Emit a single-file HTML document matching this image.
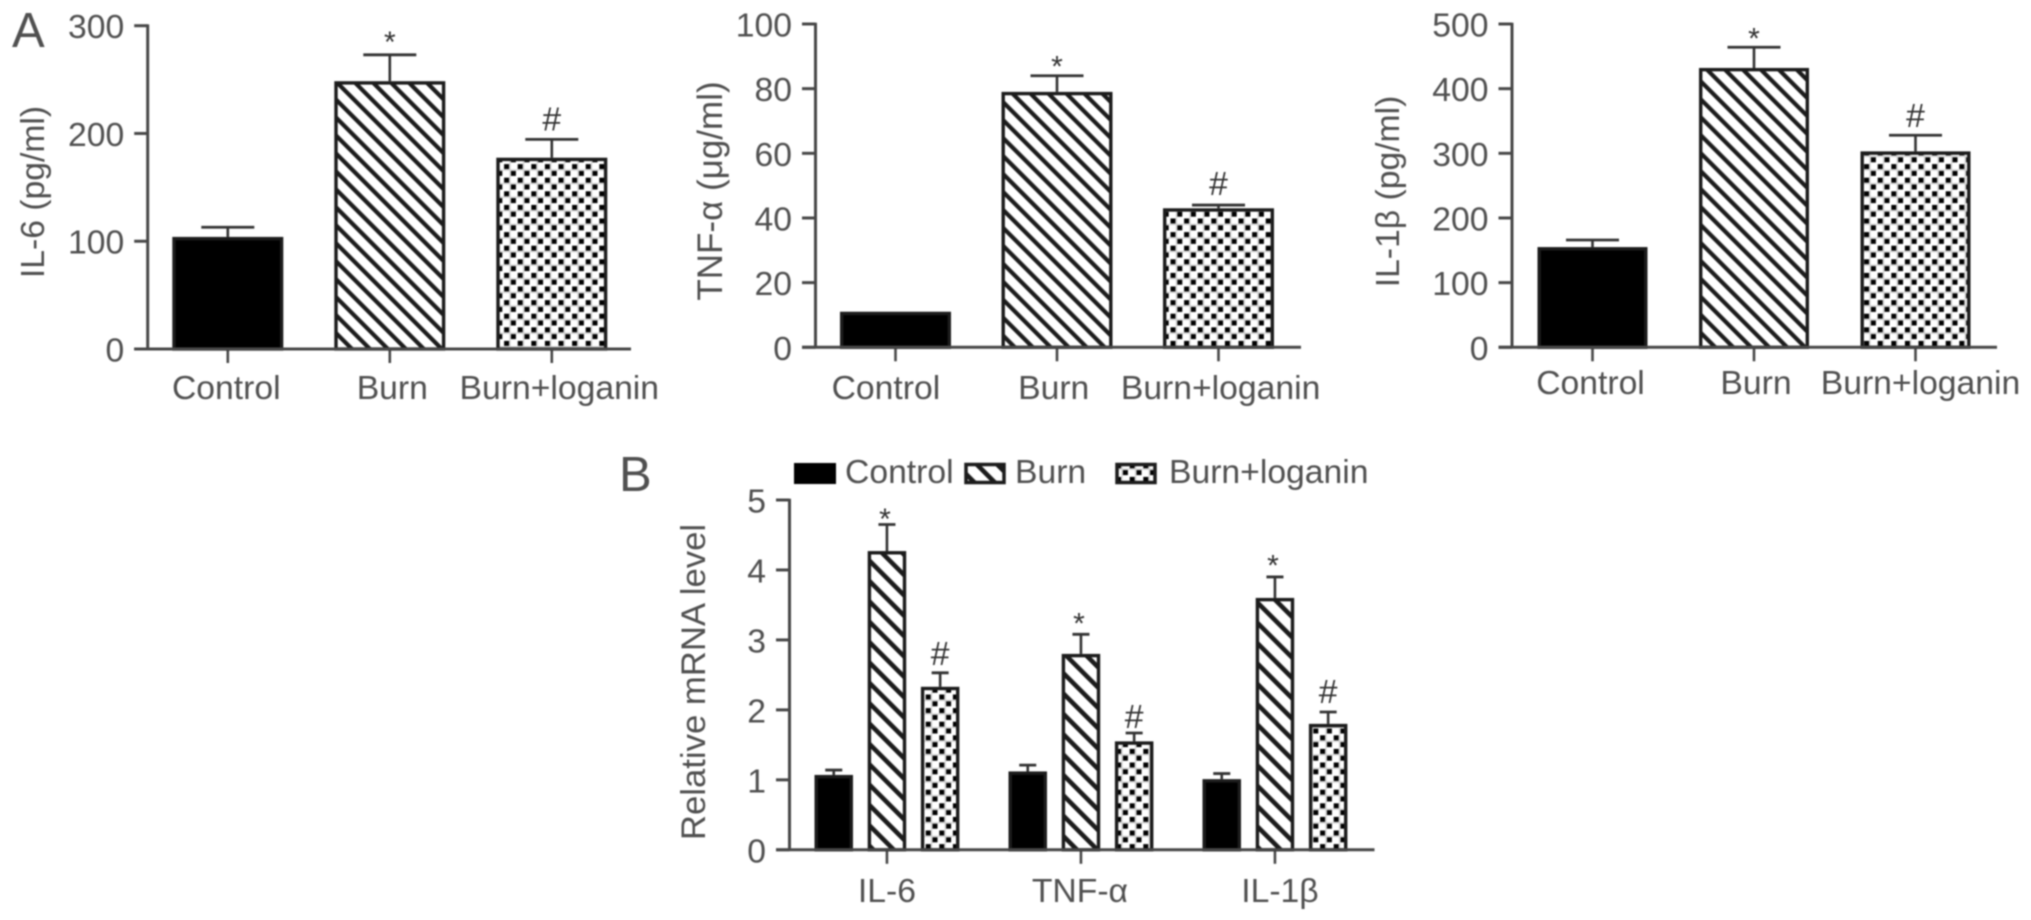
<!DOCTYPE html>
<html lang="en">
<head>
<meta charset="utf-8">
<title>Cytokine levels after burn and loganin treatment</title>
<style>
  html, body { margin: 0; padding: 0; background: #fff; }
  body { width: 2031px; height: 920px; overflow: hidden; }
  #figure { display: block; filter: blur(0.85px); }
  text { font-family: "Liberation Sans", "DejaVu Sans", sans-serif; fill: #505050; font-size: 33.7px; }
</style>
</head>
<body>
<svg id="figure" xmlns="http://www.w3.org/2000/svg" width="2031" height="920" viewBox="0 0 2031 920">
  <defs>
    <pattern id="hatch-a" patternUnits="userSpaceOnUse" width="12.7" height="12.7" patternTransform="rotate(-45)">
      <rect width="12.7" height="12.7" fill="#fff"></rect>
      <rect width="4.2" height="12.7" fill="#1c1c1c"></rect>
    </pattern>
    <pattern id="hatch-b" patternUnits="userSpaceOnUse" width="14.4" height="14.4" patternTransform="rotate(-45)">
      <rect width="14.4" height="14.4" fill="#fff"></rect>
      <rect width="4.6" height="14.4" fill="#1c1c1c"></rect>
    </pattern>
    <pattern id="checker" patternUnits="userSpaceOnUse" width="13.6" height="13.6">
      <rect width="13.6" height="13.6" fill="#fff"></rect>
      <rect x="0.9" y="0.9" width="5" height="5" fill="#000"></rect>
      <rect x="7.7" y="7.7" width="5" height="5" fill="#000"></rect>
      <rect x="6.2" y="0" width="1.2" height="13.6" fill="#ccc"></rect>
      <rect x="0" y="6.2" width="13.6" height="1.2" fill="#ccc"></rect>
    </pattern>
  </defs>

  <text x="12" y="47" style="font-size:49px">A</text>
  <text x="619" y="491" style="font-size:49px">B</text>

  <text text-anchor="middle" transform="translate(44,192) rotate(-90)">IL-6 (pg/ml)</text>
  <text text-anchor="middle" transform="translate(722,191) rotate(-90)" style="font-size:35px">TNF-α (μg/ml)</text>
  <text text-anchor="middle" transform="translate(1399,191.5) rotate(-90)">IL-1β (pg/ml)</text>
  <text text-anchor="middle" transform="translate(705,682) rotate(-90)" style="font-size:34.7px">Relative mRNA level</text>

  <g>
    <rect x="794" y="463" width="42" height="21" fill="#000"></rect>
    <text x="845" y="483">Control</text>
    <rect x="966" y="464.5" width="38" height="18" fill="url(#hatch-b)" stroke="#1c1c1c" stroke-width="3.5"></rect>
    <text x="1015" y="483">Burn</text>
    <rect x="1117" y="464.5" width="38" height="18" fill="url(#checker)" stroke="#1c1c1c" stroke-width="3.5"></rect>
    <text x="1169" y="483">Burn+loganin</text>
  </g>

  <g id="plots"></g>
</svg>

<script>
// ---- Panel A data ----
const groupCategories = ['Control', 'Burn', 'Burn+loganin'];

const il6Values = [104, 248.5, 177.5];
const il6ErrorTops = [113, 273, 194.5];
const il6Ticks = [0, 100, 200, 300];
const il6MarkerSymbols = ['', '*', '#'];
const il6MarkerLevels = [0, 291, 214];

const tnfValues = [11, 79, 43];
const tnfErrorTops = [11, 84, 44];
const tnfTicks = [0, 20, 40, 60, 80, 100];
const tnfMarkerSymbols = ['', '*', '#'];
const tnfMarkerLevels = [0, 88.9, 50.8];

const il1Values = [155, 432, 303];
const il1ErrorTops = [166, 464, 328];
const il1Ticks = [0, 100, 200, 300, 400, 500];
const il1MarkerSymbols = ['', '*', '#'];
const il1MarkerLevels = [0, 487.5, 359];

// ---- Panel B data ----
const mrnaCategories = ['IL-6', 'TNF-α', 'IL-1β'];
const mrnaSeriesNames = ['Control', 'Burn', 'Burn+loganin'];
const mrnaControl = [1.07, 1.12, 1.01];
const mrnaBurn = [4.27, 2.8, 3.6];
const mrnaLoganin = [2.33, 1.55, 1.8];
const mrnaControlErrorTops = [1.14, 1.21, 1.09];
const mrnaBurnErrorTops = [4.65, 3.08, 3.9];
const mrnaLoganinErrorTops = [2.53, 1.67, 1.97];
const mrnaBurnMarkerLevels = [4.82, 3.33, 4.16];
const mrnaLoganinMarkerLevels = [2.81, 1.91, 2.27];
const mrnaTicks = [0, 1, 2, 3, 4, 5];

// ---- Drawing ----
const SVG_NS = 'http://www.w3.org/2000/svg';
const plots = document.getElementById('plots');
const AXIS = '#484848';
const INK = '#1c1c1c';
const seriesFills = ['#000', 'url(#hatch-a)', 'url(#checker)'];
const seriesFillsB = ['#000', 'url(#hatch-b)', 'url(#checker)'];

function make(tag, attrs, parent) {
  const el = document.createElementNS(SVG_NS, tag);
  for (const k in attrs) el.setAttribute(k, attrs[k]);
  parent.appendChild(el);
  return el;
}

function drawAxes(parent, frame, ticks, yMax, yScale) {
  const yAxis = make('line', { x1: frame.axisX, x2: frame.axisX, y1: yScale(yMax) - 1.3, y2: frame.bottom, stroke: AXIS, 'stroke-width': 3 }, parent);
  
  
  const xAxis = make('line', { x1: frame.axisX - 13.5, x2: frame.xEnd, y1: frame.bottom, y2: frame.bottom, stroke: AXIS, 'stroke-width': 3 }, parent);
  
  
  ticks.forEach(function (t) {
    const y = yScale(t);
    const tick = make('line', { x1: frame.axisX - 13.5, x2: frame.axisX, y1: y, y2: y, stroke: AXIS, 'stroke-width': 3 }, parent);
    
    
    const label = make('text', { x: frame.axisX - 23.5, y: y + 12.5, 'text-anchor': 'end' }, parent);
    
    
    label.textContent = String(t);
  });
}

function drawBar(parent, x, w, value, errTop, fill, capW, yScale, bottom) {
  const top = yScale(value);
  const tip = yScale(errTop);
  if (errTop > value) {
    const stem = make('line', { x1: x + w / 2, x2: x + w / 2, y1: top, y2: tip, stroke: '#333', 'stroke-width': 2.6 }, parent);
    
    
    const cap = make('line', { x1: x + w / 2 - capW / 2, x2: x + w / 2 + capW / 2, y1: tip, y2: tip, stroke: '#333', 'stroke-width': 2.8 }, parent);
    
    
  }
  const bar = make('rect', { x: x + 1.7, y: top + 1.7, width: w - 3.4, height: Math.max(0, bottom - top - 1.7), fill: fill, stroke: INK, 'stroke-width': 3.4 }, parent);
  
  
}

function drawMarker(parent, symbol, cx, level, yScale) {
  if (!symbol) return;
  const isStar = symbol === '*';
  const size = isStar ? 30 : 33.7;
  const drop = isStar ? 16.5 : 12;
  const m = make('text', { x: cx, y: yScale(level) + drop, 'text-anchor': 'middle', style: 'font-size:' + size + 'px;fill:#333' }, parent);
  
  
  m.textContent = symbol;
}

function drawSimplePanel(frame, values, errorTops, ticks, symbols, levels) {
  const g = make('g', {}, plots);
  
  
  const yMax = ticks[ticks.length - 1];
  const yScale = function (v) { return frame.bottom - (v / yMax) * (frame.bottom - frame.top); };
  const xScale = function (i) { return frame.firstBar + i * frame.step; };
  values.forEach(function (v, i) {
    const x = xScale(i);
    const tick = make('line', { x1: x + frame.barW / 2, x2: x + frame.barW / 2, y1: frame.bottom, y2: frame.bottom + 14, stroke: AXIS, 'stroke-width': 2.6 }, g);
    
    
    drawBar(g, x, frame.barW, v, errorTops[i], seriesFills[i], 53, yScale, frame.bottom);
    drawMarker(g, symbols[i], x + frame.barW / 2, levels[i], yScale);
    const label = make('text', { x: x + frame.barW / 2 + frame.labelShift[i], y: frame.labelY, 'text-anchor': 'middle' }, g);
    
    
    label.textContent = groupCategories[i];
  });
  drawAxes(g, frame, ticks, yMax, yScale);
}

drawSimplePanel(
  { axisX: 147.7, top: 25.7, bottom: 349, xEnd: 631, firstBar: 172.3, step: 162, barW: 111, labelY: 399, labelShift: [-1.5, 2.5, 7.5] },
  il6Values, il6ErrorTops, il6Ticks, il6MarkerSymbols, il6MarkerLevels);
drawSimplePanel(
  { axisX: 815.5, top: 24, bottom: 347.3, xEnd: 1301, firstBar: 840, step: 161.5, barW: 111, labelY: 399, labelShift: [-9.6, -3.3, 2.1] },
  tnfValues, tnfErrorTops, tnfTicks, tnfMarkerSymbols, tnfMarkerLevels);
drawSimplePanel(
  { axisX: 1512, top: 24, bottom: 347.3, xEnd: 1997, firstBar: 1537.5, step: 161.5, barW: 110, labelY: 394, labelShift: [-2, 2, 5] },
  il1Values, il1ErrorTops, il1Ticks, il1MarkerSymbols, il1MarkerLevels);

(function drawMrnaPanel() {
  const frame = { axisX: 789.5, top: 500, bottom: 849.8, xEnd: 1374.5, firstBar: 814.5, groupStep: 194, barStep: 53.2, barW: 38.5, labelY: 902, labelShift: [0, -1, 5] };
  const g = make('g', {}, plots);
  
  
  const yMax = mrnaTicks[mrnaTicks.length - 1];
  const yScale = function (v) { return frame.bottom - (v / yMax) * (frame.bottom - frame.top); };
  const xScale = function (group, series) { return frame.firstBar + group * frame.groupStep + series * frame.barStep; };
  const seriesValues = [mrnaControl, mrnaBurn, mrnaLoganin];
  const seriesErrors = [mrnaControlErrorTops, mrnaBurnErrorTops, mrnaLoganinErrorTops];
  mrnaCategories.forEach(function (cat, gi) {
    const cx = xScale(gi, 1) + frame.barW / 2;
    const tick = make('line', { x1: cx, x2: cx, y1: frame.bottom, y2: frame.bottom + 14, stroke: AXIS, 'stroke-width': 2.6 }, g);
    
    
    mrnaSeriesNames.forEach(function (name, si) {
      drawBar(g, xScale(gi, si), frame.barW, seriesValues[si][gi], seriesErrors[si][gi], seriesFillsB[si], 17, yScale, frame.bottom);
    });
    drawMarker(g, '*', cx - 2, mrnaBurnMarkerLevels[gi], yScale);
    drawMarker(g, '#', xScale(gi, 2) + frame.barW / 2, mrnaLoganinMarkerLevels[gi], yScale);
    const label = make('text', { x: cx + frame.labelShift[gi], y: frame.labelY, 'text-anchor': 'middle' }, g);
    
    
    label.textContent = cat;
  });
  drawAxes(g, frame, mrnaTicks, yMax, yScale);
})();
</script>
</body>
</html>
